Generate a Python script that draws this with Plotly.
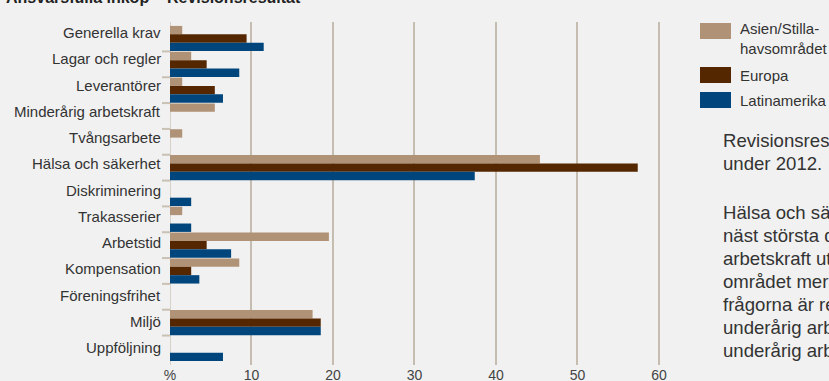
import plotly.graph_objects as go

# Data (percent of findings per region)
categories = [
    'Generella krav', 'Lagar och regler', 'Leverantörer', 'Minderårig arbetskraft',
    'Tvångsarbete', 'Hälsa och säkerhet', 'Diskriminering', 'Trakasserier',
    'Arbetstid', 'Kompensation', 'Föreningsfrihet', 'Miljö', 'Uppföljning',
]
asien = [1.5, 2.6, 1.5, 5.5, 1.5, 45.4, 0, 1.5, 19.5, 8.5, 0, 17.5, 0]
europa = [9.4, 4.5, 5.5, 0, 0, 57.4, 0, 0, 4.5, 2.6, 0, 18.5, 0]
latinamerika = [11.5, 8.5, 6.5, 0, 0, 37.4, 2.6, 2.6, 7.5, 3.6, 0, 18.5, 6.5]

series_names = ['Asien/Stilla-<br>havsområdet', 'Europa', 'Latinamerika']
x_tickvals = [0, 10, 20, 30, 40, 50, 60]
x_ticktext = ['%', '10', '20', '30', '40', '50', '60']

title_text = 'Ansvarsfulla inköp – Revisionsresultat'
intro_lines = ['Revisionsresultat per region', 'under 2012.']
body_lines = [
    'Hälsa och säkerhet är den',
    'näst största delen, medan',
    'arbetskraft utgör ett litet',
    'området mer sällan. Bland',
    'frågorna är registrering av',
    'underårig arbetskraft och',
    'underårig arbetstid.',
]

COLORS = {'asien': '#b09276', 'europa': '#552700', 'latin': '#00467d'}
BG = '#f1f1f1'
FONT = 'Liberation Sans, Arial, Helvetica, sans-serif'

W, H = 829, 381
M = dict(l=170, r=166, t=22, b=16)
PW = W - M['l'] - M['r']
PH = H - M['t'] - M['b']

# vertical layout of the category band (pixels)
CAT_PX = 25.83          # one category
FIRST_CENTER_PX = 38.5  # centre of first bar group
LABEL_TOP_PX = 32.5     # first category label
LABEL_STEP_PX = 26.25   # labels are spaced a little wider than the bars


def px_to_paper(px, py):
    """pixel position -> paper coords"""
    return (px - M['l']) / PW, (H - M['b'] - py) / PH


n = len(categories)
y_top = -(FIRST_CENTER_PX - M['t']) / CAT_PX
y_bottom = y_top + PH / CAT_PX

fig = go.Figure()
for name, vals, col in [(series_names[0], asien, COLORS['asien']),
                        (series_names[1], europa, COLORS['europa']),
                        (series_names[2], latinamerika, COLORS['latin'])]:
    fig.add_trace(go.Bar(
        y=categories, x=vals, name=name, orientation='h',
        marker=dict(color=col, line=dict(width=0)),
        showlegend=False,
    ))

annotations = []
shapes = []

# category labels
for i, cat in enumerate(categories):
    lx, ly = px_to_paper(M['l'], LABEL_TOP_PX + LABEL_STEP_PX * i)
    annotations.append(dict(
        x=lx, y=ly, xref='paper', yref='paper', text=cat, showarrow=False,
        xanchor='right', yanchor='middle', xshift=-7,
        font=dict(size=15, color='#333333', family=FONT),
    ))

# short tick marks between the categories
for i in range(n - 1):
    shapes.append(dict(type='line', xref='paper', yref='y',
                       x0=-8 / PW, x1=0, y0=i + 0.5, y1=i + 0.5,
                       line=dict(color='#c9c1b3', width=2)))

# title (mostly cut off at the top in the reference)
tx, ty = px_to_paper(4, 8)
annotations.append(dict(
    x=tx, y=ty, xref='paper', yref='paper', text='<b>' + title_text + '</b>',
    showarrow=False, xanchor='left', yanchor='bottom',
    font=dict(size=16, color='#222222', family=FONT),
))

# legend drawn by hand: wide swatches + text
legend_rows = [
    (COLORS['asien'], 23, 39, ['Asien/Stilla-', 'havsområdet'], [28, 48]),
    (COLORS['europa'], 67, 83, ['Europa'], [75]),
    (COLORS['latin'], 92, 108, ['Latinamerika'], [100]),
]
for col, y0, y1, texts, ys in legend_rows:
    x0p, y0p = px_to_paper(700, y1)
    x1p, y1p = px_to_paper(731, y0)
    shapes.append(dict(type='rect', xref='paper', yref='paper',
                       x0=x0p, x1=x1p, y0=y0p, y1=y1p,
                       fillcolor=col, line=dict(width=0), layer='above'))
    for t, yy in zip(texts, ys):
        ax, ay = px_to_paper(738, yy)
        annotations.append(dict(
            x=ax, y=ay, xref='paper', yref='paper', text=t, showarrow=False,
            xanchor='left', yanchor='middle',
            font=dict(size=15, color='#333333', family=FONT),
        ))

# side text, clipped by the right edge as in the reference
side_y = [140, 163] + [212, 235, 258, 281, 304, 327, 350]
for t, yy in zip(intro_lines + body_lines, side_y):
    ax, ay = px_to_paper(721, yy)
    annotations.append(dict(
        x=ax, y=ay, xref='paper', yref='paper', text=t, showarrow=False,
        xanchor='left', yanchor='middle',
        font=dict(size=18.6, color='#333333', family=FONT),
    ))

fig.update_layout(
    width=W, height=H,
    margin=M,
    paper_bgcolor=BG, plot_bgcolor=BG,
    barmode='group', bargap=0.025, bargroupgap=0,
    font=dict(family=FONT, color='#444444'),
    xaxis=dict(
        range=[0, 60.5], tickvals=x_tickvals, ticktext=x_ticktext,
        showgrid=True, gridcolor='#c5bdb0', gridwidth=1.5,
        zeroline=True, zerolinecolor='#d6d1c9', zerolinewidth=1,
        showline=False, ticks='', tickfont=dict(size=14, color='#444444'),
        fixedrange=True, automargin=False,
    ),
    yaxis=dict(
        type='category', categoryorder='array', categoryarray=categories,
        range=[y_bottom, y_top],
        showticklabels=False, ticks='',
        showgrid=False, zeroline=False, showline=False,
        fixedrange=True, automargin=False,
    ),
    annotations=annotations,
    shapes=shapes,
)

# page body has a default 8px margin; drop it so the chart sits at 0,0
fig.write_html("out.html", config={'displayModeBar': False}, post_script=(
    "document.body.style.margin='0';"
    "document.body.style.overflow='hidden';"
    "document.body.style.background='" + BG + "';"
))
